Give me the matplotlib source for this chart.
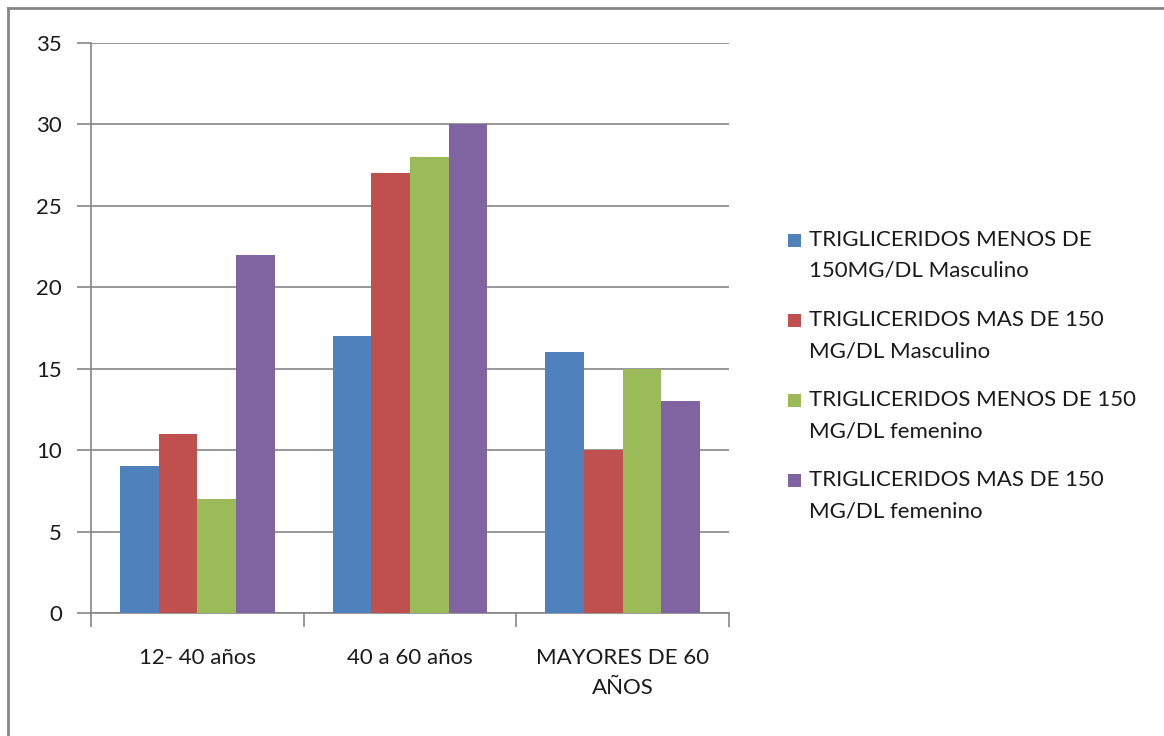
import numpy as np
import matplotlib
matplotlib.use("Agg")
import matplotlib.pyplot as plt
from matplotlib.lines import Line2D
from matplotlib.patches import Rectangle

plt.rcParams["font.family"] = ["Lato", "DejaVu Sans"]

categories = ["12- 40 años", "40 a 60 años", "MAYORES DE 60\nAÑOS"]
series_names = [
    "TRIGLICERIDOS MENOS DE\n150MG/DL Masculino",
    "TRIGLICERIDOS MAS DE 150\nMG/DL Masculino",
    "TRIGLICERIDOS MENOS DE 150\nMG/DL femenino",
    "TRIGLICERIDOS MAS DE 150\nMG/DL femenino",
]
menos_masc = [9, 17, 16]
mas_masc = [11, 27, 10]
menos_fem = [7, 28, 15]
mas_fem = [22, 30, 13]
series_values = [menos_masc, mas_masc, menos_fem, mas_fem]
colors = ["#4F81BD", "#C0504D", "#9BBB59", "#8064A2"]
y_ticks = [0, 5, 10, 15, 20, 25, 30, 35]

W, H = 1164, 736
TXT = "#1a1a1a"
GRID = "#868686"

fig = plt.figure(figsize=(W / 100, H / 100), dpi=100)
fig.patch.set_facecolor("white")
ax = fig.add_axes([91 / W, 1 - 613 / H, 638 / W, 570 / H])

x = np.arange(len(categories))
bw = 1 / 5.5
for i, (vals, col, name) in enumerate(zip(series_values, colors, series_names)):
    ax.bar(x + (i - 1.5) * bw, vals, width=bw, color=col, label=name, zorder=3)

ax.set_xlim(-0.5, len(categories) - 0.5)
ax.set_ylim(0, 35)
ax.set_yticks(y_ticks)
ax.yaxis.grid(True, color=GRID, linewidth=1.2, zorder=0)
ax.set_axisbelow(True)

ax.set_xticks(x)
ax.set_xticklabels(categories, fontsize=16, color=TXT, linespacing=1.65)
ax.set_xticks(np.arange(len(categories) + 1) - 0.5, minor=True)
ax.tick_params(axis="x", which="major", length=0, pad=25)
ax.tick_params(axis="x", which="minor", length=10, width=1.2, color=GRID,
               direction="out")
ax.tick_params(axis="y", length=10, width=1.2, color=GRID, direction="out",
               labelsize=16, labelcolor=TXT, pad=11)

for sp in ["top", "right"]:
    ax.spines[sp].set_visible(False)
for sp in ["left", "bottom"]:
    ax.spines[sp].set_color(GRID)
    ax.spines[sp].set_linewidth(1.2)

# legend: square aligned with first line of each two-line label
for i, (name, col) in enumerate(zip(series_names, colors)):
    y0 = 240 + 80 * i
    fig.add_artist(Rectangle((788 / W, 1 - (y0 + 6.5) / H), 13 / W, 13 / H,
                             transform=fig.transFigure, facecolor=col,
                             edgecolor="none"))
    for j, line in enumerate(name.split("\n")):
        fig.text(809 / W, 1 - (y0 + 31 * j) / H, line, fontsize=16, color=TXT,
                 ha="left", va="center")

# outer chart border (left and top visible)
fig.add_artist(Line2D([8 / W, 8 / W], [0, 1 - 8 / H],
                      transform=fig.transFigure, color=GRID, linewidth=2))
fig.add_artist(Line2D([8 / W, 1], [1 - 8 / H, 1 - 8 / H],
                      transform=fig.transFigure, color=GRID, linewidth=2))

plt.savefig("out.png", dpi=100)
